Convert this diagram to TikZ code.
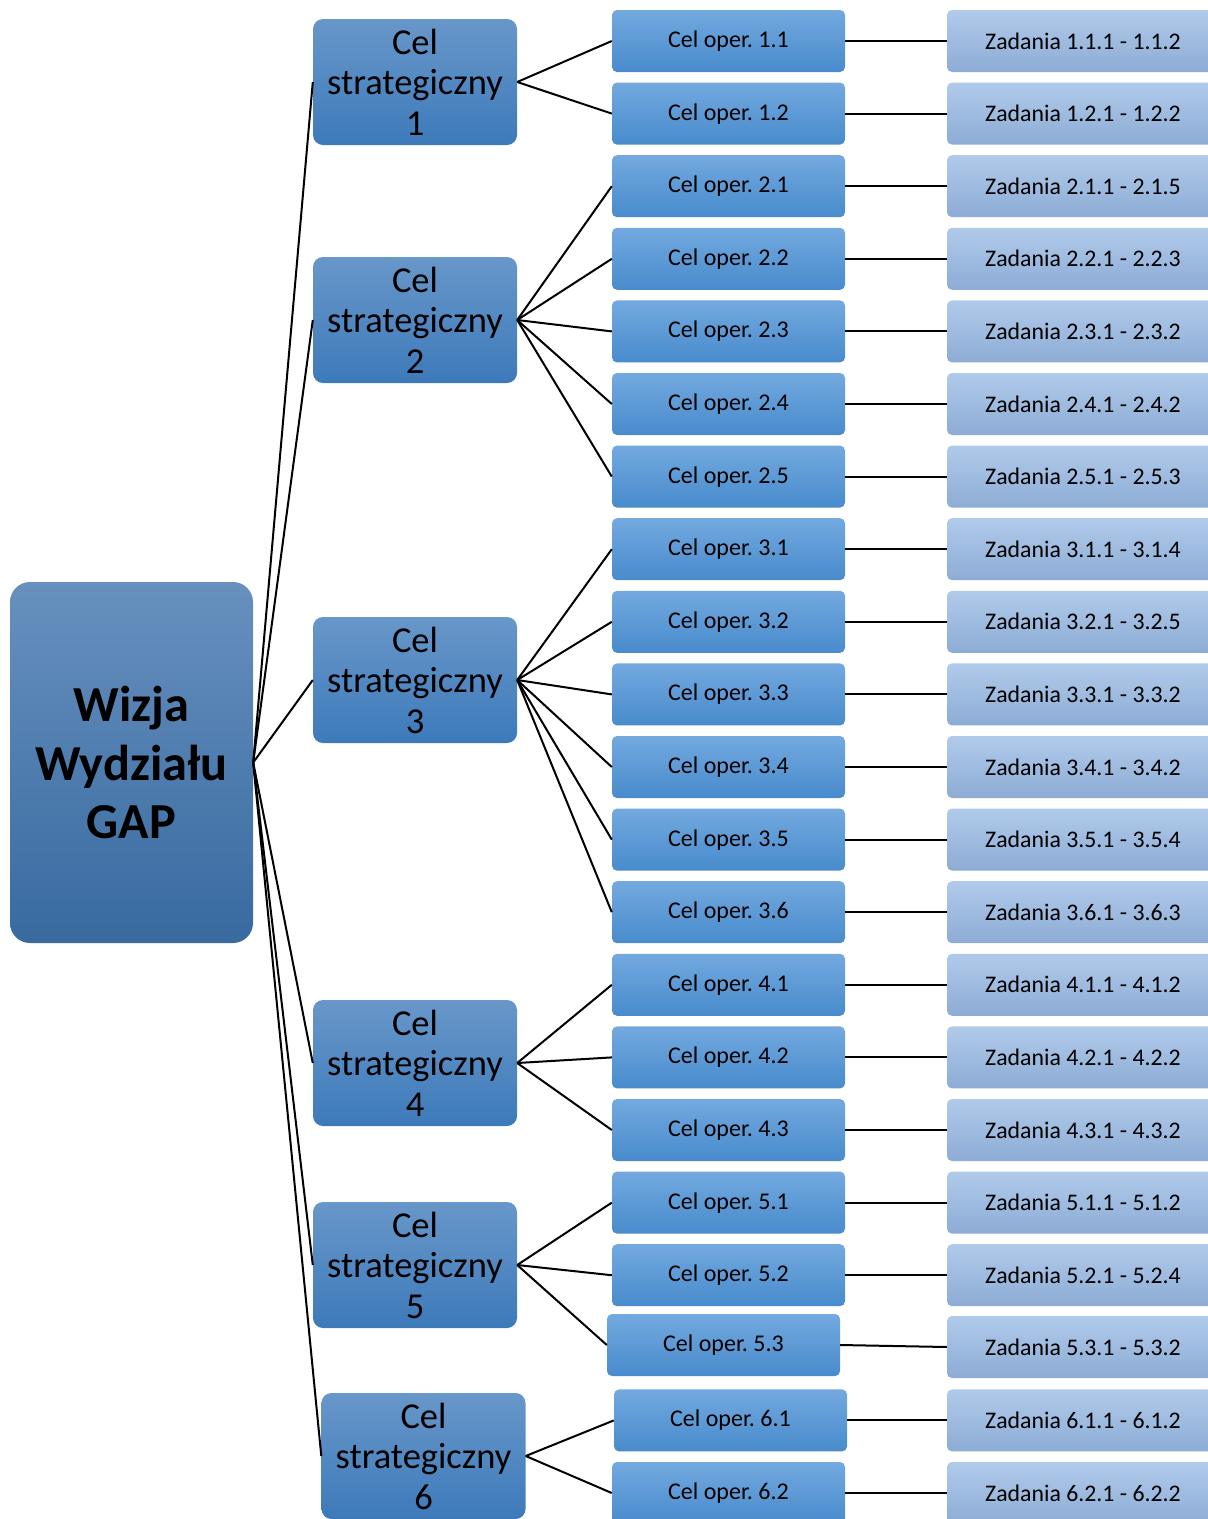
\documentclass[tikz,border=0pt]{standalone}
\usepackage{fontspec}
\setmainfont{Carlito}
\frenchspacing
\begin{document}
\begin{tikzpicture}[x=1pt,y=-1pt,
  conn/.style={line width=2pt,black},
  rootbox/.style={rounded corners=20pt,minimum width=243pt,minimum height=361pt,inner sep=0pt,
    top color={rgb,255:red,103;green,144;blue,190},bottom color={rgb,255:red,56;green,106;blue,160},
    align=center,font=\bfseries\fontsize{50.4}{58.5}\selectfont},
  stratbox/.style={rounded corners=10pt,minimum width=204pt,minimum height=126pt,inner sep=0pt,
    top color={rgb,255:red,104;green,151;blue,201},bottom color={rgb,255:red,61;green,122;blue,186},
    align=center,font=\fontsize{36.5}{40.5}\selectfont},
  opbox/.style={rounded corners=5pt,minimum width=233pt,minimum height=62pt,inner sep=0pt,
    top color={rgb,255:red,115;green,169;blue,223},bottom color={rgb,255:red,72;green,139;blue,204},
    font=\fontsize{24}{28}\selectfont},
  zadbox/.style={rounded corners=5pt,minimum width=272pt,minimum height=62pt,inner sep=0pt,
    top color={rgb,255:red,176;green,202;blue,234},bottom color={rgb,255:red,141;green,172;blue,213},
    font=\fontsize{23.8}{28}\selectfont}
]
\useasboundingbox (0,0) rectangle (1208,1519);
\fill[white] (0,0) rectangle (1208,1519);

\node[rootbox] (root) at (131.5,762.5) {Wizja\\Wydziału\\GAP};

\node[stratbox] (s1) at (415,82) {Cel\\strategiczny\\1};
\node[stratbox] (s2) at (415,320) {Cel\\strategiczny\\2};
\node[stratbox] (s3) at (415,680) {Cel\\strategiczny\\3};
\node[stratbox] (s4) at (415,1063) {Cel\\strategiczny\\4};
\node[stratbox] (s5) at (415,1265) {Cel\\strategiczny\\5};
\node[stratbox] (s6) at (423.5,1456) {Cel\\strategiczny\\6};

\foreach \n/\xo/\yo/\yz/\t/\z in {
  11/728.5/41/41/1.1/1.1.1 - 1.1.2,
  12/728.5/113.6/113.6/1.2/1.2.1 - 1.2.2,
  21/728.5/186.2/186.2/2.1/2.1.1 - 2.1.5,
  22/728.5/258.8/258.8/2.2/2.2.1 - 2.2.3,
  23/728.5/331.4/331.4/2.3/2.3.1 - 2.3.2,
  24/728.5/404/404/2.4/2.4.1 - 2.4.2,
  25/728.5/476.6/476.6/2.5/2.5.1 - 2.5.3,
  31/728.5/549.2/549.2/3.1/3.1.1 - 3.1.4,
  32/728.5/621.8/621.8/3.2/3.2.1 - 3.2.5,
  33/728.5/694.4/694.4/3.3/3.3.1 - 3.3.2,
  34/728.5/767/767/3.4/3.4.1 - 3.4.2,
  35/728.5/839.6/839.6/3.5/3.5.1 - 3.5.4,
  36/728.5/912.2/912.2/3.6/3.6.1 - 3.6.3,
  41/728.5/984.8/984.8/4.1/4.1.1 - 4.1.2,
  42/728.5/1057.4/1057.4/4.2/4.2.1 - 4.2.2,
  43/728.5/1130/1130/4.3/4.3.1 - 4.3.2,
  51/728.5/1202.6/1202.6/5.1/5.1.1 - 5.1.2,
  52/728.5/1275.2/1275.2/5.2/5.2.1 - 5.2.4,
  53/723.5/1345/1347/5.3/5.3.1 - 5.3.2,
  61/730.5/1420.4/1420.4/6.1/6.1.1 - 6.1.2,
  62/728.5/1493/1493/6.2/6.2.1 - 6.2.2}{
  \node[opbox] (o\n) at (\xo,\yo) {Cel oper. \t};
  \node[zadbox] (z\n) at (1083,\yz) {Zadania \z};
  \draw[conn] (o\n.east) -- (z\n.west);
}

\foreach \s in {s1,s2,s3,s4,s5,s6}{
  \draw[conn] (root.east) -- (\s.west);
}
\foreach \o in {11,12}{\draw[conn] (s1.east) -- (o\o.west);}
\foreach \o in {21,22,23,24,25}{\draw[conn] (s2.east) -- (o\o.west);}
\foreach \o in {31,32,33,34,35,36}{\draw[conn] (s3.east) -- (o\o.west);}
\foreach \o in {41,42,43}{\draw[conn] (s4.east) -- (o\o.west);}
\foreach \o in {51,52,53}{\draw[conn] (s5.east) -- (o\o.west);}
\foreach \o in {61,62}{\draw[conn] (s6.east) -- (o\o.west);}
\end{tikzpicture}
\end{document}
